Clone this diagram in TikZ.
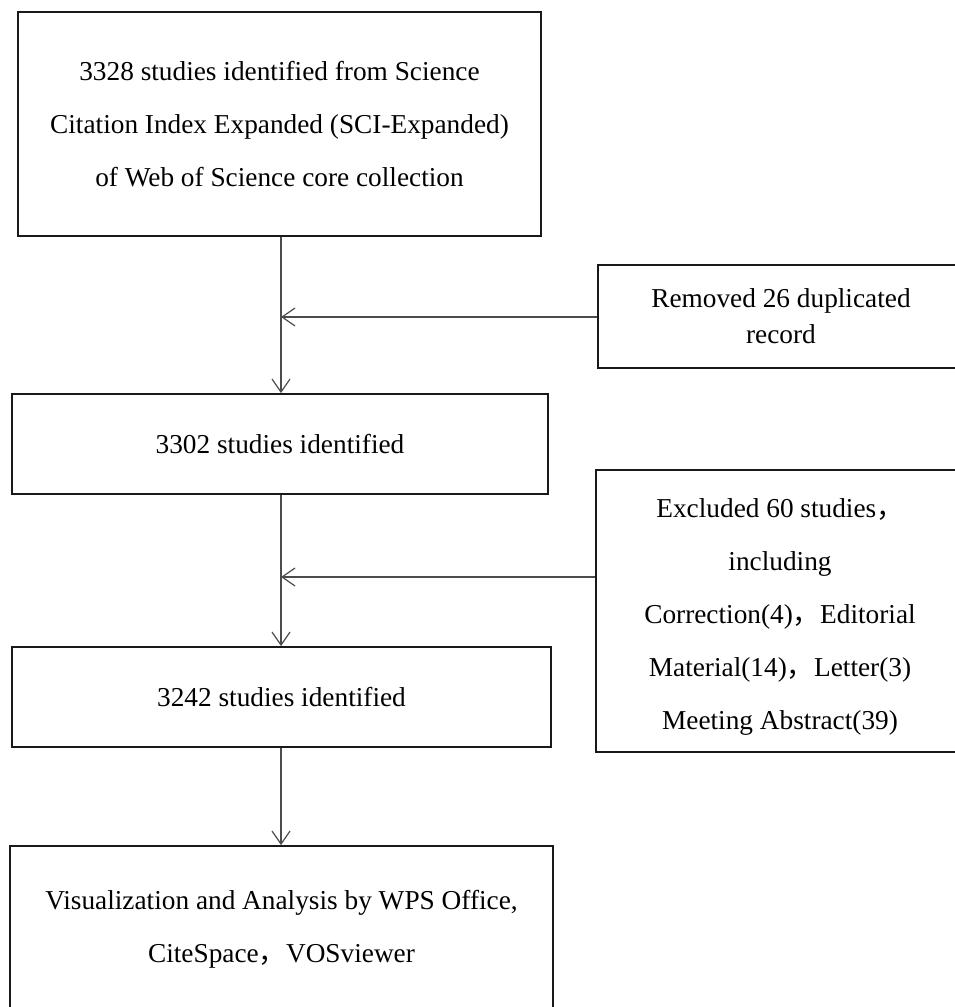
\documentclass[tikz,border=0pt]{standalone}
\usepackage{fontspec}
\setmainfont{Liberation Serif}
\newfontfamily\cjk{Noto Sans CJK SC}
\usetikzlibrary{arrows.meta}
\newcommand{\fwc}{{\cjk ，}}
\begin{document}
\begin{tikzpicture}[x=1pt,y=-1pt,
  box/.style={draw=black!90, line width=1.8pt, inner sep=0pt, align=center,
    font=\fontsize{27.3}{53}\selectfont},
  txt/.style={inner sep=0pt, align=center, font=\fontsize{27.3}{53}\selectfont},
  arr/.style={draw=black!70, line width=1.2pt,
    -{Straight Barb[length=13pt,width=18pt,line width=1.2pt]}}]
\useasboundingbox (0,0) rectangle (955,1007);
\clip (0,0) rectangle (955,1007);
\node[box, minimum width=523pt, minimum height=224pt] (b1) at (279.5,124)
  {3328 studies identified from Science\\Citation Index Expanded (SCI-Expanded)\\of Web of Science core collection};
\node[box, minimum width=536pt, minimum height=100pt] (b2) at (280,444)
  {3302 studies identified};
\node[box, minimum width=539pt, minimum height=100pt] (b3) at (281.5,697)
  {3242 studies identified};
\node[box, minimum width=543pt, minimum height=166pt] (b4) at (281.5,929)
  {Visualization and Analysis by WPS Office,\\CiteSpace\fwc VOSviewer};
\node[box, minimum width=366pt, minimum height=103pt,
  font=\fontsize{27.3}{36}\selectfont] (r1) at (781,316.5)
  {Removed 26 duplicated\\record};
\node[box, minimum width=368pt, minimum height=282pt] (r2) at (780,611) {};
\node[txt] (r2t) at (780,617)
  {Excluded 60 studies\fwc\\including\\Correction(4)\fwc Editorial\\Material(14)\fwc Letter(3)\\Meeting Abstract(39)};
\coordinate (sp) at (281,0);
\coordinate (m1) at (281,317);
\coordinate (m2) at (281,577);
\draw[arr] (b1.south -| sp) -- (b2.north -| sp);
\draw[arr] (b2.south -| sp) -- (b3.north -| sp);
\draw[arr] (b3.south -| sp) -- (b4.north -| sp);
\draw[arr] (r1.west |- m1) -- (m1);
\draw[arr] (r2.west |- m2) -- (m2);
\end{tikzpicture}
\end{document}
